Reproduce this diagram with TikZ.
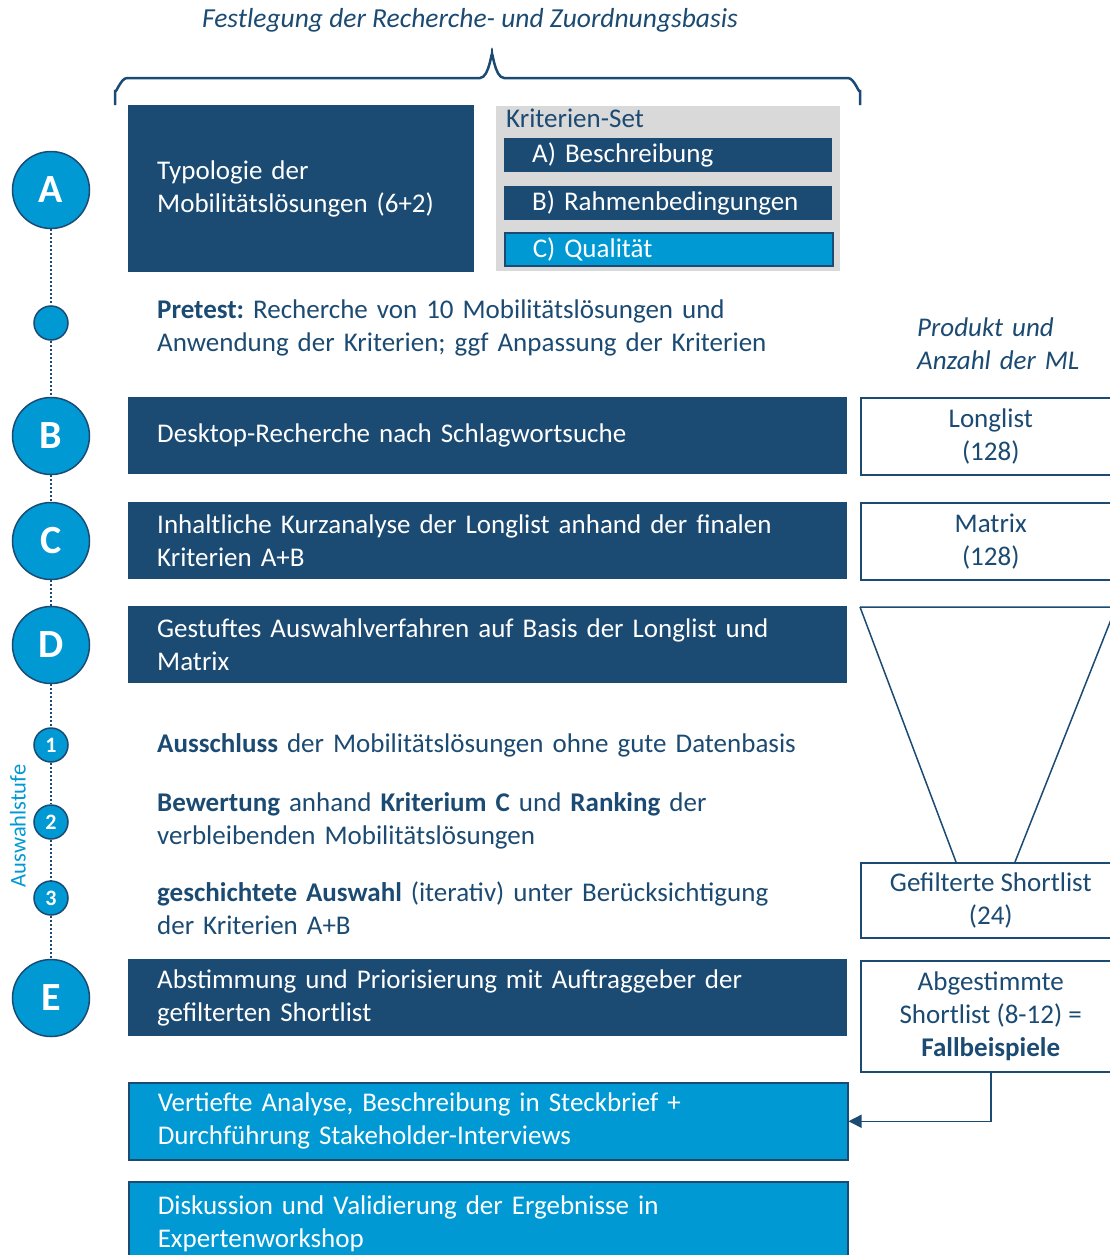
\documentclass[tikz,border=0pt]{standalone}
\usepackage{fontspec}
\setmainfont{Carlito}
\usetikzlibrary{arrows.meta,positioning,calc}
\definecolor{flowNavy}{RGB}{27,74,114}
\definecolor{flowCyan}{RGB}{0,153,212}
\definecolor{flowGrey}{RGB}{217,217,217}
\newcommand{\bodysize}{\fontsize{27}{33}\selectfont}
\frenchspacing
\tikzset{
  navybox/.style={fill=flowNavy, text=white, anchor=north west, align=left,
    inner xsep=29pt, inner ysep=0pt, minimum height=77pt, text width=661pt, font=\bodysize},
  cyanbox/.style={navybox, fill=flowCyan, draw=flowNavy, line width=1.5pt},
  kritbox/.style={fill=flowNavy, text=white, anchor=north west, align=left,
    inner xsep=28pt, inner ysep=0pt, minimum height=34pt, text width=272pt, font=\bodysize},
  resultbox/.style={draw=flowNavy, line width=1.5pt, fill=white, text=flowNavy, align=center,
    anchor=north west, minimum width=260pt, minimum height=77pt, inner sep=0pt, font=\bodysize},
  plaintext/.style={text=flowNavy, anchor=west, align=left, inner sep=0pt, text width=690pt, font=\bodysize},
  bigdot/.style={circle, fill=flowCyan, draw=flowNavy, line width=1.5pt, minimum size=77pt,
    inner sep=0pt, text=white, font=\fontsize{40}{40}\selectfont\bfseries},
  smalldot/.style={circle, fill=flowCyan, draw=flowNavy, line width=1.5pt, minimum size=34pt,
    inner sep=0pt, text=white, font=\fontsize{22}{22}\selectfont\bfseries},
  dotline/.style={flowNavy, line width=2pt, dash pattern=on 2pt off 2pt},
  navyline/.style={flowNavy, line width=1.5pt}
}
\begin{document}
\begin{tikzpicture}[x=1pt,y=-1pt]
  \useasboundingbox (0,0) rectangle (1110,1255);
  % title and brace
  \node[text=flowNavy, font=\fontsize{27.5}{33}\selectfont\itshape] (title) at (470,20) {Festlegung der Recherche- und Zuordnungsbasis};
  \draw[flowNavy, line width=2.5pt] (115,105) -- (115,90) to[out=-90,in=180] (127,78) -- (480,78)
    to[out=0,in=90] (492,56) to[out=90,in=180] (504,78) -- (848,78) to[out=0,in=-90] (860,90) -- (860,105);

  % step A
  \node[navybox, text width=288pt, minimum height=167pt] (boxA) at (128,105) {Typologie der\\Mobilitätslösungen (6+2)};
  \node[fill=flowGrey, anchor=north west, minimum width=344pt, minimum height=165pt, inner sep=0pt] (kritset) at (496,106) {};
  \node[text=flowNavy, anchor=west, inner sep=0pt, font=\bodysize] (kritlabel) at (506,118) {Kriterien-Set};
  \node[kritbox] (kritA) at (504,138) {A) Beschreibung};
  \node[kritbox] (kritB) at (504,186) {B) Rahmenbedingungen};
  \node[kritbox, fill=flowCyan, draw=flowNavy, line width=1.5pt, minimum height=33pt] (kritC) at (504,232) {C) Qualität};

  % pretest
  \node[plaintext] (pretest) at (157,328) {\textbf{Pretest:} Recherche von 10 Mobilitätslösungen und\\Anwendung der Kriterien; ggf Anpassung der Kriterien};
  \node[plaintext, text width=180pt, font=\bodysize\itshape] (produkt) at (917,344) {Produkt und\\Anzahl der ML};

  % steps B to E
  \node[navybox] (boxB) at (128,397) {Desktop-Recherche nach Schlagwortsuche};
  \node[navybox] (boxC) at (128,502) {Inhaltliche Kurzanalyse der Longlist anhand der finalen\\Kriterien A+B};
  \node[navybox] (boxD) at (128,606) {Gestuftes Auswahlverfahren auf Basis der Longlist und\\Matrix};
  \node[plaintext] (stufe1) at (157,745) {\textbf{Ausschluss} der Mobilitätslösungen ohne gute Datenbasis};
  \node[plaintext] (stufe2) at (157,821) {\textbf{Bewertung} anhand \textbf{Kriterium C} und \textbf{Ranking} der\\verbleibenden Mobilitätslösungen};
  \node[plaintext] (stufe3) at (157,908) {\textbf{geschichtete Auswahl} (iterativ) unter Berücksichtigung\\der Kriterien A+B};
  \node[navybox] (boxE) at (128,959) {Abstimmung und Priorisierung mit Auftraggeber der\\gefilterten Shortlist};
  \node[cyanbox] (boxF) at (128,1082) {Vertiefte Analyse, Beschreibung in Steckbrief +\\Durchführung Stakeholder-Interviews};
  \node[cyanbox, minimum height=84pt] (boxG) at (128,1181) {Diskussion und Validierung der Ergebnisse in\\Expertenworkshop};

  % products
  \node[resultbox] (longlist) at (860,397) {Longlist\\(128)};
  \node[resultbox] (matrix) at (860,502) {Matrix\\(128)};
  \node[resultbox, minimum height=75pt] (gefiltert) at (860,862) {Gefilterte Shortlist\\(24)};
  \node[resultbox, minimum height=111pt] (abgestimmt) at (860,960) {Abgestimmte\\Shortlist (8-12) =\\\textbf{Fallbeispiele}};
  % funnel
  \coordinate (funnelL) at (860,607);
  \coordinate (funnelR) at (1116,607);
  \draw[navyline] (funnelL) -- (funnelR) -- ($(gefiltert.north west)+(155,0)$);
  \draw[navyline] (funnelL) -- ($(gefiltert.north west)+(96,0)$);
  \draw[navyline, -{Triangle[length=13pt,width=13pt]}] (abgestimmt.south) |- (boxF.east);

  % timeline
  \node[bigdot] (cA) at (51,190) {A};
  \node[smalldot] (p0) at (51,323) {};
  \node[bigdot] (cB) at (51,436) {B};
  \node[bigdot] (cC) at (51,541) {C};
  \node[bigdot] (cD) at (51,645) {D};
  \node[smalldot] (s1) at (51,745) {1};
  \node[smalldot] (s2) at (51,822) {2};
  \node[smalldot] (s3) at (51,898) {3};
  \node[bigdot] (cE) at (51,998) {E};
  \foreach \a/\b in {cA/p0,p0/cB,cB/cC,cC/cD,cD/s1,s1/s2,s2/s3,s3/cE}
    \draw[dotline] (\a) -- (\b);
  \node[rotate=90, text=flowCyan, inner sep=0pt, font=\fontsize{22.5}{22.5}\selectfont] (stufelabel) at (18,826) {Auswahlstufe};
\end{tikzpicture}
\end{document}
